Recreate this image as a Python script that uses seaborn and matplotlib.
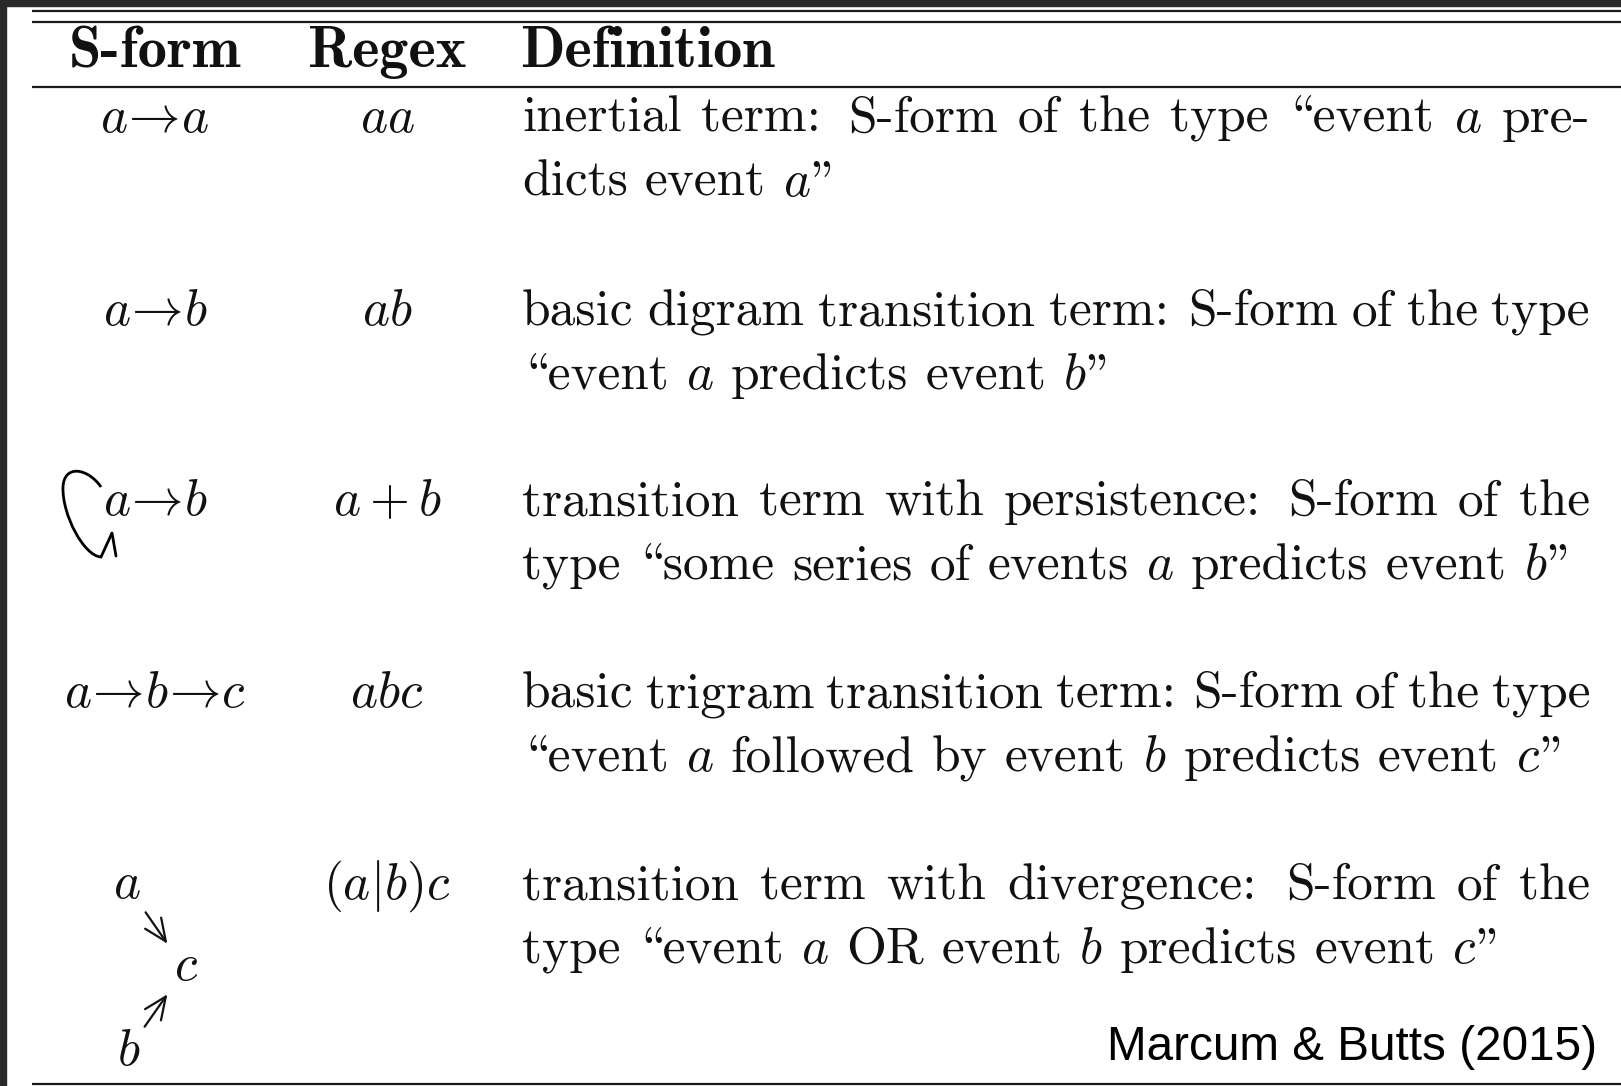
import re
import numpy as np
import pandas as pd
import matplotlib
matplotlib.use("Agg")
import matplotlib.pyplot as plt
import seaborn as sns
from matplotlib.path import Path
from matplotlib.patches import PathPatch, FancyArrowPatch, Rectangle

# ---------------- data ----------------
headers = ["S-form", "Regex", "Definition"]
sform_labels = [r"$a\!\rightarrow\!a$", r"$a\!\rightarrow\!b$", r"$a\!\rightarrow\!b$",
                r"$a\!\rightarrow\!b\!\rightarrow\!c$", ""]
regex_labels = [r"$aa$", r"$ab$", r"$a+b$", r"$abc$", r"$(a|b)c$"]
def_line1 = [
    "inertial term: S-form of the type \u201cevent $a$ pre-",
    "basic digram transition term: S-form of the type",
    "transition term with persistence: S-form of the",
    "basic trigram transition term: S-form of the type",
    "transition term with divergence: S-form of the",
]
def_line2 = [
    "dicts event $a$\u201d",
    "\u201cevent $a$ predicts event $b$\u201d",
    "type \u201csome series of events $a$ predicts event $b$\u201d",
    "\u201cevent $a$ followed by event $b$ predicts event $c$\u201d",
    "type \u201cevent $a$ OR event $b$ predicts event $c$\u201d",
]
diverge_nodes = [r"$a$", r"$b$", r"$c$"]
source_note = "Marcum & Butts (2015)"

table = pd.DataFrame({"sform": sform_labels, "regex": regex_labels,
                      "line1": def_line1, "line2": def_line2})

# ---------------- style ----------------
sns.set_theme(style="white")
plt.rcParams["mathtext.fontset"] = "cm"
RM = ["cmr10", "Liberation Serif"]
BF = ["cmb10", "Liberation Serif"]
FS = 37
FS_HEAD = 42
INK = "#111111"

# cmr10 (TeX OT1 encoding): opening quote sits at "\", closing quote at '"'
TEX_QUOTES = {"\u201c": "\\", "\u201d": '"'}

W, H = 1621, 1086
fig = plt.figure(figsize=(W / 100, H / 100), dpi=100)
fig.patch.set_facecolor("white")
ax = fig.add_axes([0, 0, 1, 1])
ax.set_xlim(0, W)
ax.set_ylim(H, 0)
ax.axis("off")
sns.despine(ax=ax, left=True, bottom=True)

# dark frame remnants (top and left)
ax.add_patch(Rectangle((0, 0), W, 6, color="#2a2a2a", zorder=10))
ax.add_patch(Rectangle((0, 0), 6, H, color="#2a2a2a", zorder=10))

# rules
for yy in (11, 22, 87, 1084):
    ax.plot([32, W], [yy, yy], color="#1a1a1a", lw=1.6, solid_capstyle="butt")

# headers
col_sform, col_regex, col_def = 155, 387, 522
def_right = 1590
ax.text(col_sform, 67, headers[0], fontsize=FS_HEAD, family=BF, ha="center", va="baseline", color=INK)
ax.text(col_regex, 67, headers[1], fontsize=FS_HEAD, family=BF, ha="center", va="baseline", color=INK)
ax.text(col_def - 2, 67, headers[2], fontsize=FS_HEAD, family=BF, ha="left", va="baseline", color=INK)

row_base = [132, 325, 515, 707, 899]
line_skip = 64

renderer = fig.canvas.get_renderer()


def tex_piece(p):
    if p.startswith("$"):
        return p
    for k, v in TEX_QUOTES.items():
        p = p.replace(k, v)
    return p


def draw_line(text, y, x0, x1, justify):
    words = text.split(" ")
    items = []
    for w in words:
        pieces = [p for p in re.split(r"(\$[^$]+\$)", w) if p]
        items.append([ax.text(0, y, tex_piece(p), fontsize=FS, family=RM, ha="left",
                              va="baseline", color=INK) for p in pieces])
    widths = [[t.get_window_extent(renderer).width for t in it] for it in items]
    total = sum(sum(ws) for ws in widths)
    weights = [1.4 if w.endswith(":") else 1.0 for w in words[:-1]]
    if justify and len(words) > 1:
        unit = (x1 - x0 - total) / sum(weights)
    else:
        unit = 0.333 * FS * 100 / 72
    x = x0
    for i, (it, ws) in enumerate(zip(items, widths)):
        for t, wdt in zip(it, ws):
            t.set_x(x)
            x += wdt
        if i < len(weights):
            x += unit * weights[i]


for i, row in table.iterrows():
    yb = row_base[i]
    if row["sform"]:
        ax.text(col_sform, yb, row["sform"], fontsize=FS, ha="center", va="baseline", color=INK)
    ax.text(col_regex, yb, row["regex"], fontsize=FS, ha="center", va="baseline", color=INK)
    draw_line(row["line1"], yb, col_def, def_right, True)
    draw_line(row["line2"], yb + line_skip, col_def, def_right, False)

# persistence loop (row 3)
verts = [(101, 487), (88, 468), (64, 464), (63, 487),
         (62, 515), (84, 556), (101, 557), (112, 533)]
codes = [Path.MOVETO, Path.CURVE4, Path.CURVE4, Path.CURVE4,
         Path.CURVE4, Path.CURVE4, Path.CURVE4, Path.LINETO]
ax.add_patch(PathPatch(Path(verts, codes), fill=False, lw=2.0, color="black"))
ax.plot([112, 116], [533, 556], color="black", lw=2.0)

# divergence diagram (row 5)
ax.text(127, 898, diverge_nodes[0], fontsize=FS, ha="center", va="baseline", color=INK)
ax.text(129, 1065, diverge_nodes[1], fontsize=FS, ha="center", va="baseline", color=INK)
ax.text(186, 980, diverge_nodes[2], fontsize=FS, ha="center", va="baseline", color=INK)
for (xa, ya), (xb, yb2) in [((144, 910), (169, 946)), ((143, 1029), (169, 992))]:
    ax.add_patch(FancyArrowPatch((xa, ya), (xb, yb2), arrowstyle="->,head_length=8,head_width=3.5",
                                 lw=1.6, color=INK, mutation_scale=2))

# source note
ax.text(1597, 1060, source_note, fontsize=34.3, family=["Liberation Sans"],
        ha="right", va="baseline", color="black")

fig.savefig("out.png", dpi=100, facecolor=fig.get_facecolor())
